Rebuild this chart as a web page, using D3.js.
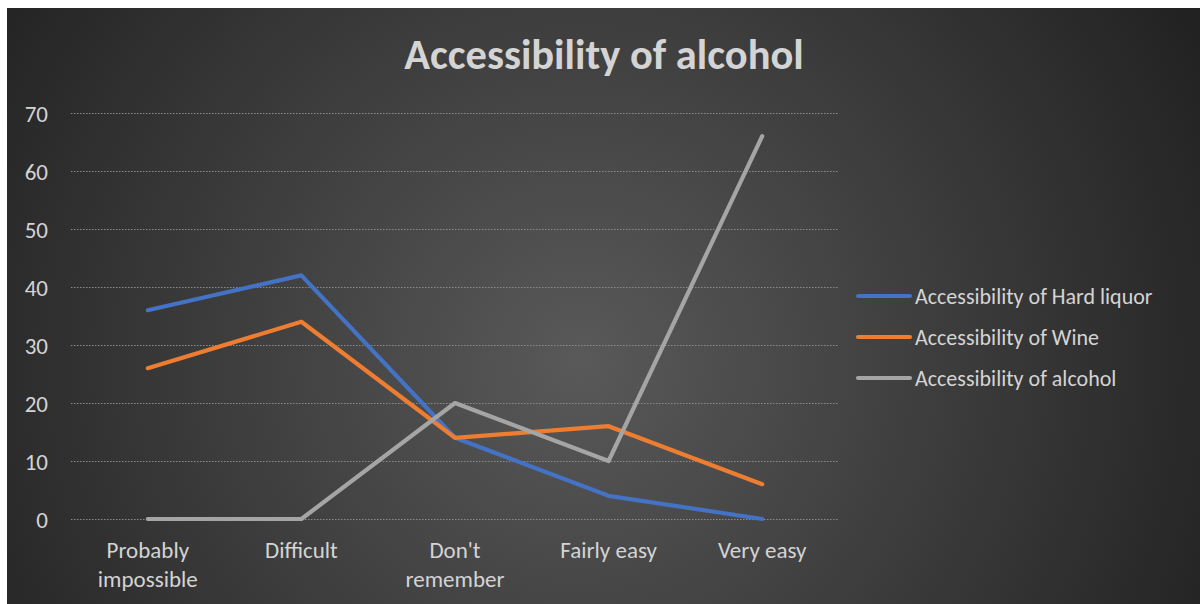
<!DOCTYPE html>
<html>
<head>
<meta charset="utf-8">
<script src="https://cdn.jsdelivr.net/npm/d3@7"></script>
<style>
  html, body { margin: 0; padding: 0; background: #ffffff; }
  svg { display: block; }
</style>
</head>
<body>
<svg id="chart" width="1200" height="604"></svg>
<script>
// Response categories along the x axis
const categories = ["Probably impossible", "Difficult", "Don't remember", "Fairly easy", "Very easy"];
// Two-line versions of the category labels
const categoryLines = [["Probably", "impossible"], ["Difficult"], ["Don't", "remember"], ["Fairly easy"], ["Very easy"]];

// Series values (per category)
const hardLiquor = [36, 42, 14, 4, 0];
const wine = [26, 34, 14, 16, 6];
const alcohol = [0, 0, 20, 10, 66];

const seriesNames = ["Accessibility of Hard liquor", "Accessibility of Wine", "Accessibility of alcohol"];
const seriesColors = ["#4472C4", "#ED7D31", "#A5A5A5"];
const yTicks = [0, 10, 20, 30, 40, 50, 60, 70];

const series = [hardLiquor, wine, alcohol].map((values, i) => ({
  name: seriesNames[i], color: seriesColors[i], values
}));

const svg = d3.select("#chart");
const font = "Carlito, Calibri, Lato, 'Open Sans', sans-serif";
const textColor = "#d4d4d4";

// Dark chart area with a soft radial glow
const defs = svg.append("defs");
const grad = defs.append("radialGradient")
  .attr("id", "bg").attr("gradientUnits", "userSpaceOnUse")
  .attr("cx", 580).attr("cy", 360).attr("r", 700);
grad.append("stop").attr("offset", "0%").attr("stop-color", "#595959");
grad.append("stop").attr("offset", "100%").attr("stop-color", "#222222");

svg.append("rect").attr("x", 7).attr("y", 8).attr("width", 1193).attr("height", 596)
  .attr("fill", "url(#bg)");

const plot = { left: 71, right: 839, top: 113, bottom: 519 };

const x = d3.scaleBand().domain(categories).range([plot.left, plot.right]);
const y = d3.scaleLinear().domain([0, 70]).range([plot.bottom, plot.top]);
const cx = c => x(c) + x.bandwidth() / 2;

// Title
svg.append("text")
  .attr("x", 604).attr("y", 69)
  .attr("text-anchor", "middle")
  .attr("font-family", font).attr("font-weight", "bold").attr("font-size", 42.5)
  .attr("fill", textColor)
  .text("Accessibility of alcohol");

// Gridlines
const yAxis = d3.axisLeft(y).tickValues(yTicks).tickSize(-(plot.right - plot.left)).tickPadding(23);
const gy = svg.append("g").attr("transform", `translate(${plot.left},0)`).call(yAxis);
gy.select(".domain").remove();
gy.selectAll(".tick line")
  .attr("stroke", "#8c8c8c").attr("stroke-width", 1).attr("stroke-dasharray", "1.5,1.5");
gy.selectAll(".tick text")
  .attr("font-family", font).attr("font-size", 23).attr("fill", textColor)
  .attr("text-anchor", "end").attr("dy", "0.35em");

// X axis category labels
const xAxis = d3.axisBottom(x).tickSize(0).tickFormat(() => "");
const gx = svg.append("g").attr("transform", `translate(0,${plot.bottom})`).call(xAxis);
gx.select(".domain").remove();
gx.selectAll(".tick text").remove();
gx.selectAll(".tick").each(function(d, i) {
  const t = d3.select(this).append("text")
    .attr("text-anchor", "middle")
    .attr("font-family", font).attr("font-size", 23).attr("fill", textColor);
  categoryLines[i].forEach((line, j) => {
    t.append("tspan").attr("x", 0).attr("y", 39 + j * 29).text(line);
  });
});

// Lines
const line = d3.line().x((d, i) => cx(categories[i])).y(d => y(d));
svg.append("g").selectAll("path").data(series).join("path")
  .attr("d", d => line(d.values))
  .attr("fill", "none")
  .attr("stroke", d => d.color)
  .attr("stroke-width", 4.2)
  .attr("stroke-linejoin", "round")
  .attr("stroke-linecap", "round");

// Legend
const legend = svg.append("g").selectAll("g").data(series).join("g")
  .attr("transform", (d, i) => `translate(858,${296 + i * 41})`);
legend.append("line")
  .attr("x1", 0).attr("x2", 52).attr("y1", 0).attr("y2", 0)
  .attr("stroke", d => d.color).attr("stroke-width", 4.2).attr("stroke-linecap", "round");
legend.append("text")
  .attr("x", 57).attr("y", 0).attr("dy", "0.35em")
  .attr("font-family", font).attr("font-size", 22).attr("fill", textColor)
  .text(d => d.name);
</script>
</body>
</html>
